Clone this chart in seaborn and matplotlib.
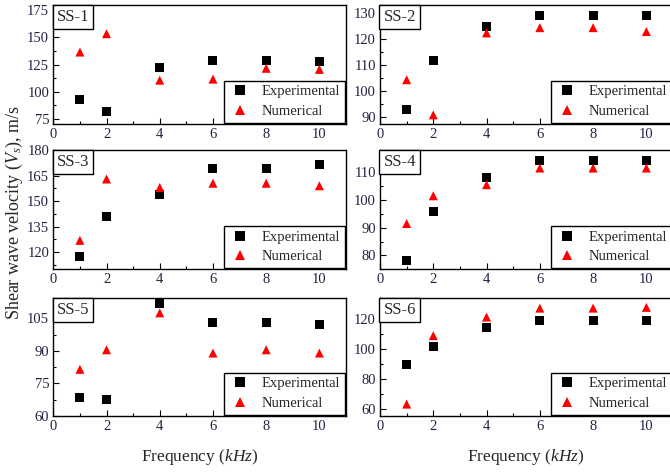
import matplotlib
matplotlib.use("Agg")
import matplotlib.pyplot as plt
import seaborn as sns
import pandas as pd
from matplotlib.ticker import MultipleLocator, AutoMinorLocator

sns.set_theme(style="ticks")
plt.rcParams['font.family'] = ['Liberation Serif', 'DejaVu Serif']
plt.rcParams['mathtext.fontset'] = 'custom'
plt.rcParams['mathtext.rm'] = 'Liberation Serif'
plt.rcParams['mathtext.it'] = 'Liberation Serif:italic'

freq = [1, 2, 4, 6, 8, 10]
panels = ["SS-1", "SS-2", "SS-3", "SS-4", "SS-5", "SS-6"]

exp_ss1 = [92.5, 81.5, 122.5, 129, 129, 128]
num_ss1 = [136.5, 153.5, 110.5, 111.5, 121.5, 120.5]
exp_ss2 = [93, 112, 124.8, 129, 129, 129]
num_ss2 = [104.5, 91, 122.5, 124.5, 124.5, 123]
exp_ss3 = [117.5, 141, 154, 169, 169, 171.5]
num_ss3 = [127, 163, 158, 160.5, 160.5, 159]
exp_ss4 = [78, 96, 108, 114.3, 114.3, 114.2]
num_ss4 = [91.5, 101.5, 105.5, 111.5, 111.5, 111.5]
exp_ss5 = [68.5, 67.5, 112, 103, 103, 102]
num_ss5 = [81.5, 90.5, 107.5, 89, 90.5, 89]
exp_ss6 = [89.5, 101.5, 114.5, 119.5, 119.5, 119.5]
num_ss6 = [63, 109, 121.5, 127.5, 127.5, 128]

exp_all = [exp_ss1, exp_ss2, exp_ss3, exp_ss4, exp_ss5, exp_ss6]
num_all = [num_ss1, num_ss2, num_ss3, num_ss4, num_ss5, num_ss6]

ylims = [(70, 180), (87.5, 133.2), (110, 180), (75, 118), (60, 114.5), (55, 134.5)]
ysteps = [25, 10, 15, 10, 15, 20]

fig = plt.figure(figsize=(6.7, 4.72), dpi=100)
W, H = 670, 472
rows = [(5, 124), (150, 269.3), (297.7, 416)]
cols = [(53.3, 346), (380, 673)]

palette = {"Experimental": "black", "Numerical": "red"}
markers = {"Experimental": "s", "Numerical": "^"}

for i, name in enumerate(panels):
    r, c = divmod(i, 2)
    top, bot = rows[r]
    x0, x1 = cols[c]
    ax = fig.add_axes([x0 / W, 1 - bot / H, (x1 - x0) / W, (bot - top) / H])
    df = pd.DataFrame({
        "Frequency": freq * 2,
        "Vs": exp_all[i] + num_all[i],
        "Type": ["Experimental"] * len(freq) + ["Numerical"] * len(freq),
    })
    sns.scatterplot(data=df, x="Frequency", y="Vs", hue="Type", style="Type",
                    palette=palette, markers=markers, s=42, linewidth=0,
                    ax=ax, legend=True)
    ax.set_xlim(0, 11)
    ax.set_ylim(*ylims[i])
    ax.xaxis.set_major_locator(MultipleLocator(2))
    ax.xaxis.set_minor_locator(MultipleLocator(1))
    ax.yaxis.set_major_locator(MultipleLocator(ysteps[i]))
    ax.yaxis.set_minor_locator(AutoMinorLocator(2))
    ax.tick_params(which='both', direction='in', labelsize=10.5, pad=3,
                   colors='black', labelcolor='#222244')
    ax.tick_params(which='major', length=4, width=0.8)
    ax.tick_params(which='minor', length=2.5, width=0.8)
    for sp in ax.spines.values():
        sp.set_color('black')
        sp.set_linewidth(1.0)
    ax.set_xlabel("")
    ax.set_ylabel("")
    handles, labels = ax.get_legend_handles_labels()
    ax.legend(handles=handles, labels=labels, loc='lower right', fontsize=10.5,
              frameon=True, fancybox=False, edgecolor='black', framealpha=1,
              borderaxespad=0.1, handletextpad=0.7, borderpad=0.3,
              labelspacing=0.45, markerscale=1.0, handlelength=1.6)
    ax.legend_.get_frame().set_linewidth(1.0)
    ax.text(0.012, 0.965, name, transform=ax.transAxes, ha='left', va='top',
            fontsize=12,
            bbox=dict(boxstyle='square,pad=0.25', fc='white', ec='black', lw=1.0))

fig.text(0.022, 0.549, "Shear wave velocity ($V_s$), m/s", rotation=90,
         ha='center', va='center', fontsize=13)
fig.text(0.298, 0.031, "Frequency ($kHz$)", ha='center', va='center', fontsize=12.5)
fig.text(0.785, 0.031, "Frequency ($kHz$)", ha='center', va='center', fontsize=12.5)

fig.savefig("out.png", dpi=100)
